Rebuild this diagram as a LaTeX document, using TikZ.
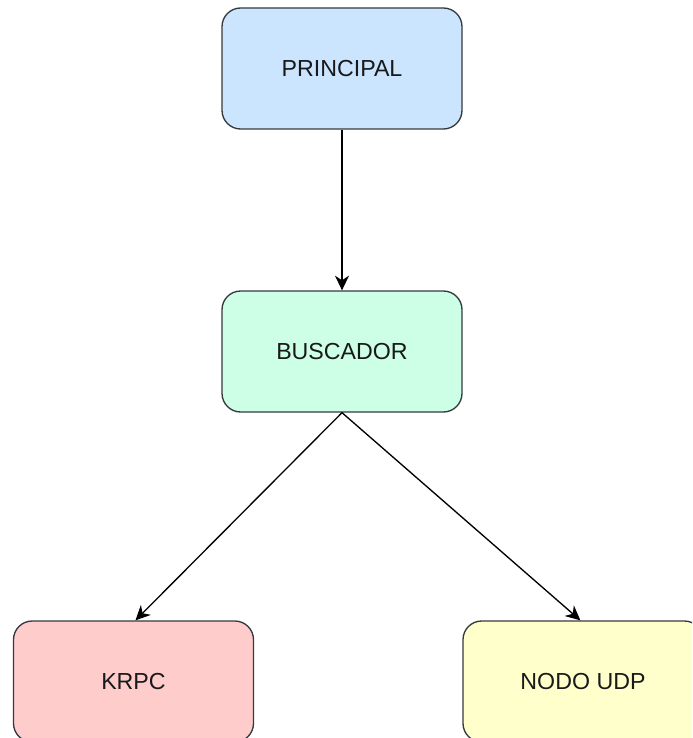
\documentclass[tikz,border=0pt]{standalone}
\usepackage{fontspec}
\setmainfont{Liberation Sans}
\usetikzlibrary{arrows.meta}
\definecolor{edge}{HTML}{36393D}
\definecolor{fillblue}{HTML}{CCE5FF}
\definecolor{fillgreen}{HTML}{CCFFE6}
\definecolor{fillred}{HTML}{FFCCCC}
\definecolor{fillyellow}{HTML}{FFFFCC}
\tikzset{
  block/.style={draw=edge, line width=1pt, rounded corners=14pt,
    minimum width=180pt, minimum height=90.75pt, inner sep=0pt,
    font=\fontsize{17.4}{20}\selectfont, text=black!90},
  link/.style={draw=black, line width=1pt, -{Stealth[length=11pt,width=10.5pt,inset=3.5pt]}}
}
\begin{document}
\begin{tikzpicture}[x=0.75pt,y=-0.75pt]
  \useasboundingbox (0,0) rectangle (692,738);
  \clip (0,0) rectangle (692,738);
  \fill[white] (0,0) rectangle (692,738);
  \node[block, fill=fillblue]   (principal) at (342,68.5)  {PRINCIPAL};
  \node[block, fill=fillgreen]  (buscador)  at (342,351.5) {BUSCADOR};
  \node[block, fill=fillred]    (krpc)      at (133.5,681.5) {KRPC};
  \node[block, fill=fillyellow] (udp)       at (583,681.5) {NODO UDP};
  \draw[link] (principal.south) -- (buscador.north);
  \draw[link] (buscador.south) -- ([xshift=1.5pt]krpc.north);
  \draw[link] (buscador.south) -- ([xshift=-2pt]udp.north);
\end{tikzpicture}
\end{document}
